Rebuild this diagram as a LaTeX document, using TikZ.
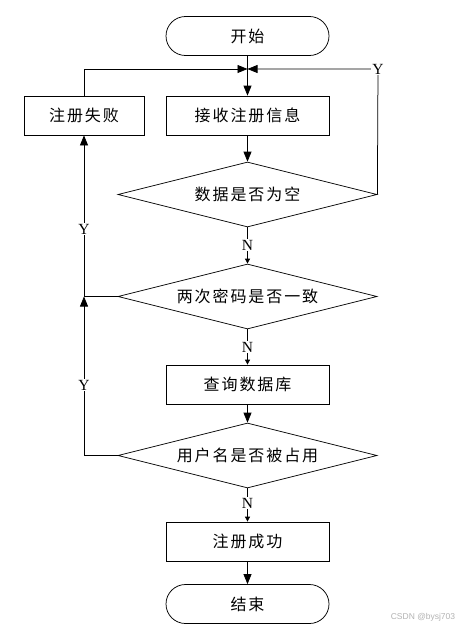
\documentclass[tikz,border=0pt]{standalone}
\usepackage{fontspec}
\setmainfont{Liberation Serif}
\newfontfamily\cjk[LetterSpace=12]{Noto Sans CJK SC}
\newfontfamily\wmfont{Liberation Sans}
\usetikzlibrary{arrows.meta,shapes.geometric}
\begin{document}
\begin{tikzpicture}[x=1pt,y=-1pt, line width=0.75pt,
  txt/.style={font=\cjk\fontsize{16}{16}\selectfont},
  proc/.style={draw, txt, minimum width=163pt, minimum height=39pt, inner sep=0pt},
  term/.style={proc, rounded corners=19.5pt},
  dec/.style={draw, txt, shape=diamond, aspect=4, minimum width=259pt, minimum height=65pt, inner sep=0pt},
  lab/.style={fill=white, inner sep=1pt, font=\fontsize{15.5}{15.5}\selectfont},
  big/.style={-{Triangle[length=10pt,width=8pt]}},
  small/.style={-{Triangle[length=5pt,width=5pt]}}
]
\useasboundingbox (0,0) rectangle (462,629);

\node[term] (start) at (247.5,36) {开始};
\node[proc] (recv) at (247.5,115.5) {接收注册信息};
\node[proc, minimum width=120pt] (fail) at (84,115.5) {注册失败};
\node[dec] (d1) at (247.5,194.5) {数据是否为空};
\node[dec] (d2) at (247.5,296.5) {两次密码是否一致};
\node[proc] (query) at (247.5,384.5) {查询数据库};
\node[dec] (d3) at (247.5,455.5) {用户名是否被占用};
\node[proc] (ok) at (247.5,541.5) {注册成功};
\node[term] (end) at (247.5,604) {结束};

\coordinate (j) at (247.5,69);
\coordinate (jl) at (84,69);
\coordinate (jr) at (378,69);
\coordinate (l2) at (84,296.5);
\coordinate (l3) at (84,455.5);

% main flow
\draw[big] (start.south) -- (recv.north);
\draw[big] (recv.south) -- (d1.north);
\draw[small] (d1.south) -- (d2.north);
\draw[small] (d2.south) -- (query.north);
\draw[big] (query.south) -- (d3.north);
\draw[small] (d3.south) -- (ok.north);
\draw[big] (ok.south) -- (end.north);

% loops back
\draw[big] (fail.north) -- (jl) -- (j);
\draw[big] (d1.east) -- (jr) -- (j);
\draw[big] (d2.west) -- (l2) -- (fail.south);
\draw[big] (d3.west) -- (l3) -- (l2);

% labels
\node[lab] (yr) at (jr) {Y};
\node[lab] (y1) at (84,229) {Y};
\node[lab] (y2) at (84,385) {Y};
\node[lab] (n1) at (247.5,245) {N};
\node[lab] (n2) at (247.5,347) {N};
\node[lab] (n3) at (247.5,503) {N};

\node[text=gray!60, font=\wmfont\fontsize{8.5}{8.5}\selectfont] (wm) at (423,617) {CSDN @bysj703};
\end{tikzpicture}
\end{document}
